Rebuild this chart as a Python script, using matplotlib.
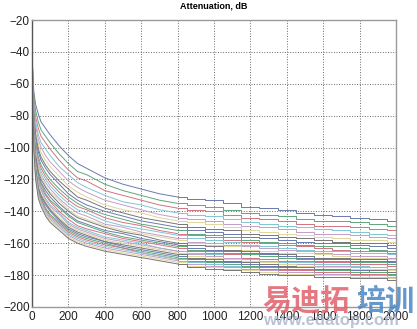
import numpy as np
import matplotlib
matplotlib.use('Agg')
import matplotlib.pyplot as plt

# sample positions along the x axis
x_samples = [0, 10, 20, 35, 50, 75, 100, 150, 200, 250, 300, 400, 500, 600, 700,
             800, 900, 1000, 1100, 1200, 1300, 1400, 1500, 1600, 1700, 1800, 1900, 2000]

# attenuation in dB, one row per x sample, one column per curve (top curve first)
attenuation_db = [
    [-42, -42, -43, -43, -43, -43, -44, -44, -44, -44, -44, -44, -45, -45, -45, -45, -45, -45, -45, -45, -45, -46, -46, -46, -46, -46, -46, -46],
    [-65, -68, -71, -73, -76, -78, -79, -81, -83, -84, -85, -87, -88, -89, -90, -91, -92, -93, -94, -94, -95, -96, -97, -97, -98, -99, -99, -100],
    [-73, -77, -81, -84, -87, -90, -92, -95, -97, -98, -100, -102, -104, -105, -106, -108, -109, -111, -112, -112, -113, -114, -115, -116, -117, -118, -119, -120],
    [-79, -84, -88, -92, -95, -98, -101, -103, -106, -108, -110, -112, -113, -115, -117, -118, -120, -121, -122, -124, -125, -126, -127, -128, -129, -130, -131, -132],
    [-84, -89, -93, -97, -100, -103, -106, -108, -111, -113, -115, -117, -118, -120, -122, -123, -125, -126, -127, -129, -130, -131, -132, -133, -134, -135, -136, -137],
    [-88, -93, -97, -101, -105, -108, -111, -113, -116, -118, -120, -122, -124, -125, -127, -129, -130, -132, -133, -134, -135, -136, -138, -139, -140, -141, -142, -143],
    [-92, -97, -101, -105, -109, -112, -115, -117, -120, -122, -124, -126, -128, -129, -131, -133, -134, -136, -137, -138, -139, -140, -142, -143, -144, -145, -146, -147],
    [-99, -104, -108, -112, -115, -118, -121, -123, -126, -128, -130, -132, -133, -135, -137, -138, -140, -141, -142, -144, -145, -146, -147, -148, -149, -150, -151, -152],
    [-105, -110, -114, -117, -121, -124, -126, -129, -131, -133, -135, -137, -139, -140, -142, -143, -145, -147, -148, -149, -150, -151, -152, -153, -154, -155, -156, -157],
    [-110, -115, -119, -122, -125, -128, -131, -133, -135, -137, -139, -141, -143, -144, -146, -147, -149, -150, -151, -152, -153, -154, -155, -156, -157, -158, -159, -160],
    [-113, -117, -121, -125, -128, -131, -133, -136, -138, -139, -141, -143, -145, -146, -148, -149, -151, -152, -153, -154, -155, -156, -157, -158, -159, -160, -161, -162],
    [-119, -123, -127, -130, -133, -136, -138, -140, -142, -144, -146, -148, -149, -150, -152, -153, -154, -156, -157, -158, -159, -159, -160, -161, -162, -163, -164, -165],
    [-123, -127, -130, -134, -136, -139, -141, -143, -145, -147, -149, -150, -152, -153, -154, -156, -157, -158, -159, -160, -161, -162, -163, -163, -164, -165, -166, -167],
    [-126, -130, -133, -136, -139, -141, -144, -146, -148, -149, -151, -153, -154, -155, -157, -158, -159, -160, -161, -162, -163, -164, -165, -166, -166, -167, -168, -169],
    [-129, -133, -136, -139, -142, -144, -146, -148, -150, -152, -153, -155, -156, -158, -159, -160, -161, -163, -163, -164, -165, -166, -167, -168, -168, -169, -170, -171],
    [-131, -135, -138, -141, -144, -146, -148, -150, -152, -154, -155, -157, -158, -160, -161, -162, -163, -165, -165, -166, -167, -168, -169, -170, -170, -171, -172, -173],
    [-132, -136, -139, -142, -145, -147, -150, -152, -154, -155, -157, -159, -160, -161, -163, -164, -165, -166, -167, -168, -169, -170, -171, -172, -172, -173, -174, -175],
    [-133, -137, -140, -143, -146, -148, -151, -153, -155, -156, -158, -160, -161, -162, -164, -165, -166, -167, -168, -169, -170, -171, -172, -173, -173, -174, -175, -176],
    [-135, -139, -142, -145, -148, -150, -152, -154, -156, -158, -159, -161, -162, -164, -165, -166, -167, -169, -169, -170, -171, -172, -173, -174, -174, -175, -176, -177],
    [-137, -141, -144, -147, -149, -152, -154, -156, -158, -159, -161, -162, -164, -165, -166, -167, -169, -170, -171, -171, -172, -173, -174, -175, -176, -176, -177, -178],
    [-138, -142, -145, -148, -150, -153, -155, -157, -159, -160, -162, -163, -165, -166, -167, -168, -170, -171, -172, -172, -173, -174, -175, -176, -177, -177, -178, -179],
    [-139, -143, -146, -149, -151, -154, -156, -158, -160, -161, -163, -164, -166, -167, -168, -169, -171, -172, -173, -173, -174, -175, -176, -177, -178, -178, -179, -180],
    [-141, -145, -148, -150, -153, -155, -157, -159, -161, -162, -164, -165, -166, -168, -169, -170, -171, -172, -173, -174, -175, -175, -176, -177, -178, -178, -179, -180],
    [-142, -146, -149, -151, -154, -156, -158, -160, -162, -163, -165, -166, -167, -169, -170, -171, -172, -173, -174, -175, -176, -176, -177, -178, -179, -179, -180, -181],
    [-143, -146, -149, -152, -154, -157, -159, -160, -162, -164, -165, -167, -168, -169, -170, -171, -172, -173, -174, -175, -176, -176, -177, -178, -179, -179, -180, -181],
    [-144, -147, -150, -153, -155, -158, -160, -161, -163, -165, -166, -168, -169, -170, -171, -172, -173, -174, -175, -176, -177, -177, -178, -179, -180, -180, -181, -182],
    [-145, -148, -151, -154, -156, -158, -160, -162, -164, -165, -166, -168, -169, -170, -171, -172, -173, -175, -175, -176, -177, -178, -178, -179, -180, -181, -181, -182],
    [-146, -149, -152, -155, -157, -159, -161, -163, -165, -166, -167, -169, -170, -171, -172, -173, -174, -176, -176, -177, -178, -179, -179, -180, -181, -182, -182, -183],
]

x_ticks = [0, 200, 400, 600, 800, 1000, 1200, 1400, 1600, 1800, 2000]
y_ticks = [-200, -180, -160, -140, -120, -100, -80, -60, -40, -20]

# washed-out matlab line colours: b g r c m y k
line_colors = ['#6a7aae', '#5fa67a', '#cf7482', '#80c6d3', '#c29ec8', '#ddd69c', '#767676']

plt.rcParams['font.family'] = ['Liberation Sans', 'DejaVu Sans']

fig = plt.figure(figsize=(4.17, 3.29), dpi=100)
ax = fig.add_axes([0.0767, 0.0669, 0.8729, 0.8723])

x = np.array(x_samples)
att = np.array(attenuation_db)
split = x_samples.index(800)
for i in range(att.shape[1]):
    c = line_colors[i % len(line_colors)]
    # steep start drawn straight, the slow tail drawn as a staircase
    ax.plot(x[:split + 1], att[:split + 1, i], color=c, linewidth=0.7)
    ax.plot(x[split:], att[split:, i], color=c, linewidth=0.7, drawstyle='steps-mid')

ax.set_xlim(0, 2000)
ax.set_ylim(-200, -20)
ax.set_xticks(x_ticks)
ax.set_yticks(y_ticks)
ax.tick_params(direction='in', length=0, labelsize=8.5, colors='#222222')
ax.tick_params(axis='x', pad=3)
ax.tick_params(axis='y', pad=1.5)
ax.grid(True, linestyle=':', linewidth=0.7, color='#6a6a6a')

for side in ['top', 'right', 'bottom']:
    ax.spines[side].set_color('#9a9a9a')
    ax.spines[side].set_linewidth(1.0)
ax.spines['left'].set_color('#555555')
ax.spines['left'].set_linewidth(1.0)

ax.set_title('Attenuation, dB', fontsize=6.5, fontweight='bold', pad=8)

# watermark in the lower right corner
fig.text(0.628, 0.085, '易迪拓', family=['Noto Sans CJK SC'], fontsize=21, fontweight='bold',
         color='#e2606c', alpha=0.85, ha='left', va='center')
fig.text(0.855, 0.085, '培训', family=['Noto Sans CJK SC'], fontsize=21, fontweight='bold',
         color='#4a86c4', alpha=0.85, ha='left', va='center')
fig.text(0.632, 0.025, 'www.edatop.com', fontsize=12, fontweight='bold',
         color='#a9b4c8', alpha=0.8, ha='left', va='center')

fig.savefig('out.png', dpi=100)
